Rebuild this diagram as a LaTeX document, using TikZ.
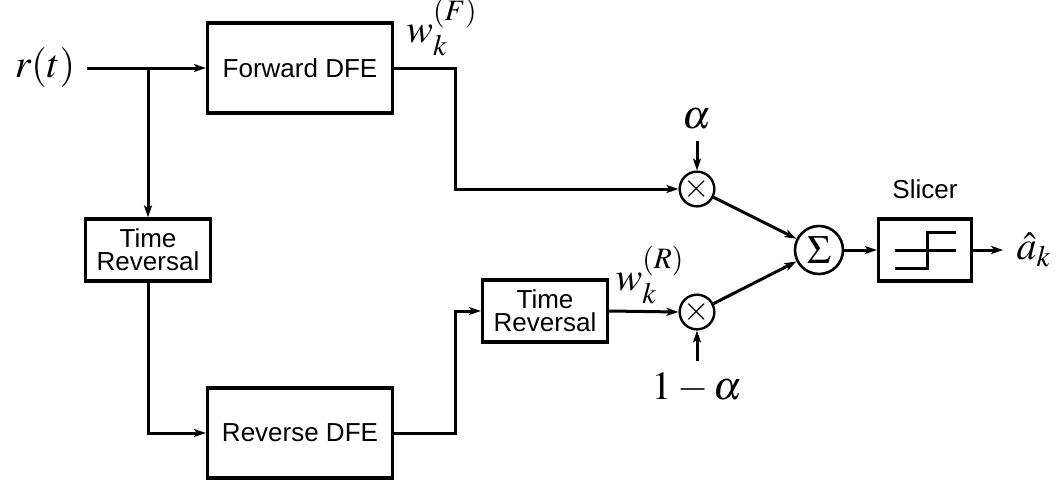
\documentclass[tikz,border=0pt]{standalone}
\usepackage{mathptmx}
\usepackage[no-math]{fontspec}
\setmainfont{Liberation Sans}
\usepackage{tikz}
\usetikzlibrary{arrows.meta, positioning, calc}
\definecolor{DFEInk}{RGB}{0, 0, 0}

\tikzset{
  dfebox/.style={draw=DFEInk, line width=1.6pt, minimum width=92.5pt, minimum height=45pt,
    inner sep=0pt, font=\fontsize{13}{12}\selectfont},
  trbox/.style={draw=DFEInk, line width=1.6pt, minimum width=62.5pt, minimum height=31pt,
    inner sep=0pt, align=center, font=\fontsize{13}{11.5}\selectfont},
  slicerbox/.style={draw=DFEInk, line width=1.6pt, minimum width=46.5pt, minimum height=31pt, inner sep=0pt},
  mixer/.style={circle, draw=DFEInk, line width=1.2pt, minimum size=13pt, inner sep=0pt,
    font=\fontsize{17}{17}\selectfont},
  adder/.style={circle, draw=DFEInk, line width=1.3pt, minimum size=24pt, inner sep=0pt,
    font=\fontsize{20}{20}\selectfont},
  mathlbl/.style={inner sep=0pt, text=DFEInk, font=\fontsize{20}{24}\selectfont},
  textlbl/.style={inner sep=0pt, text=DFEInk, font=\fontsize{13}{12}\selectfont}
}

\begin{document}
\begin{tikzpicture}[x=0.5pt, y=-0.5pt, line width=1.5pt, draw=DFEInk,
    >={Stealth[length=6pt, width=4pt, inset=1.5pt]}]
  \useasboundingbox (0,0) rectangle (1057,484);

  % blocks
  \node[dfebox] (fwd) at (300,68) {Forward DFE};
  \node[dfebox] (rev) at (300,433) {Reverse DFE};
  \node[trbox] (trA) at (148,250) {Time\\Reversal};
  \node[trbox] (trB) at (545,311) {Time\\Reversal};
  \node[mixer] (mulA) at (697,189) {$\times$};
  \node[mixer] (mulB) at (697,312) {$\times$};
  \node[adder] (sum) at (819,250) {$\Sigma$};
  \node[slicerbox] (slc) at (925,250) {};
  \node[textlbl, above=8.5pt of slc] (slcname) {Slicer};

  % labels
  \node[mathlbl] (rt) at (45,67) {$r(t)$};
  \node[mathlbl] (wF) at (442,27) {$w_k^{(F)}$};
  \node[mathlbl] (wR) at (650,275) {$w_k^{(R)}$};
  \node[mathlbl] (alpha) at (697,119) {$\alpha$};
  \node[mathlbl] (oma) at (697,388) {$1-\alpha$};
  \node[mathlbl] (ahat) at (1034,250) {$\hat{a}_k$};
  \coordinate (rin) at (87,68);
  \coordinate (tap) at (148,68);

  % slicer characteristic
  \draw[line width=1.5pt] ([shift={(-30,18)}]slc.center) -- ++(32,0) -- ++(0,-36) -- ++(29,0);
  \draw[line width=1.5pt] ([shift={(-30,0)}]slc.center) -- ++(61,0);

  % connectors
  \draw[->] (rin) -- (fwd.west);
  \draw[->] (tap) -- (trA.north);
  \draw[->] (trA.south) |- (rev.west);
  \draw[->] (fwd.east) -- ++(61,0) |- (mulA.west);
  \draw[->] (rev.east) -- ++(61,0) |- (trB.west);
  \draw[->] (trB.east) -- (mulB.west);
  \draw[->, shorten <=5pt] (alpha.south) -- (mulA.north);
  \draw[->, shorten <=5pt] (oma.north) -- (mulB.south);
  \draw[->] (mulA) -- (sum);
  \draw[->] (mulB) -- (sum);
  \draw[->] (sum) -- (slc.west);
  \draw[->, shorten >=6pt] (slc.east) -- (ahat.west);
\end{tikzpicture}
\end{document}
